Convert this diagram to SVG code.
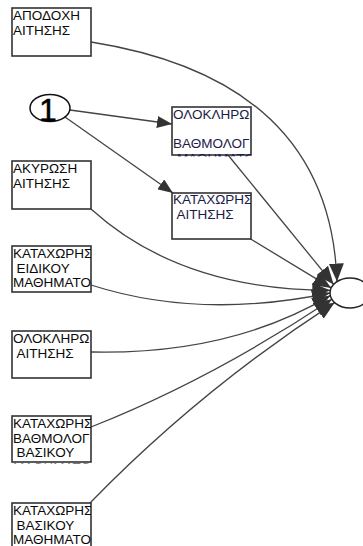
<svg xmlns="http://www.w3.org/2000/svg" width="363" height="546" viewBox="0 0 363 546">
  <style>
    .box { fill: #ffffff; stroke: #333333; stroke-width: 1.6; }
    .lbl { font-family: "Liberation Sans", Arial, sans-serif; font-size: 13.5px; fill: #0a0a0a; }
    .lbl2 { font-family: "Liberation Sans", Arial, sans-serif; font-size: 13.5px; fill: #1c1c48; }
    .edge { fill: none; stroke: #444444; stroke-width: 1.3; }
    .start { fill: #ffffff; stroke: #111111; stroke-width: 1.5; }
    .end { fill: #ffffff; stroke: #222222; stroke-width: 1.5; }
  </style>
  <defs>
    <marker id="arrow" markerUnits="userSpaceOnUse" markerWidth="15" markerHeight="12" refX="15" refY="6" orient="auto">
      <path d="M0,0 L15,6 L0,12 z" fill="#333333"/>
    </marker>
    <marker id="arrow-end" markerUnits="userSpaceOnUse" markerWidth="18" markerHeight="15" refX="18" refY="7.5" orient="auto">
      <path d="M0,0 L18,7.5 L0,15 z" fill="#333333"/>
    </marker>
    <clipPath id="cA"><rect x="12" y="8" width="79" height="48"/></clipPath>
    <clipPath id="cB"><rect x="172" y="107" width="79" height="49.5"/></clipPath>
    <clipPath id="cC"><rect x="172" y="193" width="79" height="46"/></clipPath>
    <clipPath id="cD"><rect x="12" y="161" width="79" height="48"/></clipPath>
    <clipPath id="cE"><rect x="12" y="246" width="79" height="46"/></clipPath>
    <clipPath id="cF"><rect x="12" y="331" width="79" height="47"/></clipPath>
    <clipPath id="cG"><rect x="12" y="416" width="79" height="47.5"/></clipPath>
    <clipPath id="cH"><rect x="12" y="503" width="79" height="48"/></clipPath>
  </defs>

  <!-- connectors -->
  <g id="connectors">
    <path class="edge" d="M70,110 L172,124" marker-end="url(#arrow)"/>
    <path class="edge" d="M65,117 L173,193" marker-end="url(#arrow)"/>
    <path class="edge" d="M91,42 Q330,80 337,281.5" marker-end="url(#arrow-end)"/>
    <path class="edge" d="M228,155 L333.6,284.4" marker-end="url(#arrow-end)"/>
    <path class="edge" d="M249,238 L331.2,287.9" marker-end="url(#arrow-end)"/>
    <path class="edge" d="M91,209 Q180,290 330.3,290.4" marker-end="url(#arrow-end)"/>
    <path class="edge" d="M91,285 Q200,320 330,293" marker-end="url(#arrow-end)"/>
    <path class="edge" d="M91,352 Q230,355 330.3,295.6" marker-end="url(#arrow-end)"/>
    <path class="edge" d="M91,427 Q210,380 331.9,299.3" marker-end="url(#arrow-end)"/>
    <path class="edge" d="M90,503 Q200,390 334.7,302.6" marker-end="url(#arrow-end)"/>
  </g>

  <!-- start node -->
  <g id="start">
    <ellipse class="start" cx="50" cy="108" rx="20" ry="13.5"/>
    <text x="48" y="121" text-anchor="middle" font-family="'Liberation Sans', Arial, sans-serif" font-size="32" fill="#000000" stroke="#000000" stroke-width="0.5">1</text>
  </g>

  <!-- end node -->
  <g id="end">
    <ellipse class="end" cx="350" cy="293" rx="20" ry="15"/>
  </g>

  <g id="apodoxi-aitisis">
    <rect class="box" x="12" y="8" width="79" height="48"/>
    <g clip-path="url(#cA)">
      <text class="lbl" x="13" y="20">ΑΠΟΔΟΧΗ</text>
      <text class="lbl" x="13" y="34.5">ΑΙΤΗΣΗΣ</text>
    </g>
  </g>

  <g id="oloklirosi-vathmologias">
    <rect class="box" x="172" y="107" width="79" height="48"/>
    <g clip-path="url(#cB)">
      <text class="lbl2" x="173" y="119">ΟΛΟΚΛΗΡΩ</text>
      <text class="lbl2" x="173" y="148">ΒΑΘΜΟΛΟΓ</text>
      <text class="lbl2" x="177" y="163">ΜΑΘΗΜΑΤΟΣ</text>
    </g>
  </g>

  <g id="kataxorisi-aitisis">
    <rect class="box" x="172" y="193" width="79" height="46"/>
    <g clip-path="url(#cC)">
      <text class="lbl2" x="173" y="204">ΚΑΤΑΧΩΡΗΣ</text>
      <text class="lbl2" x="176.5" y="218.5">ΑΙΤΗΣΗΣ</text>
    </g>
  </g>

  <g id="akyrosi-aitisis">
    <rect class="box" x="12" y="161" width="79" height="48"/>
    <g clip-path="url(#cD)">
      <text class="lbl" x="13" y="173">ΑΚΥΡΩΣΗ</text>
      <text class="lbl" x="13" y="187.5">ΑΙΤΗΣΗΣ</text>
    </g>
  </g>

  <g id="kataxorisi-eidikou">
    <rect class="box" x="12" y="246" width="79" height="46"/>
    <g clip-path="url(#cE)">
      <text class="lbl" x="13" y="258">ΚΑΤΑΧΩΡΗΣ</text>
      <text class="lbl" x="16.5" y="272.5">ΕΙΔΙΚΟΥ</text>
      <text class="lbl" x="13" y="287">ΜΑΘΗΜΑΤΟ</text>
    </g>
  </g>

  <g id="oloklirosi-aitisis">
    <rect class="box" x="12" y="331" width="79" height="47"/>
    <g clip-path="url(#cF)">
      <text class="lbl" x="13" y="343">ΟΛΟΚΛΗΡΩ</text>
      <text class="lbl" x="16.5" y="357.5">ΑΙΤΗΣΗΣ</text>
    </g>
  </g>

  <g id="kataxorisi-vathmologias">
    <rect class="box" x="12" y="416" width="79" height="46"/>
    <g clip-path="url(#cG)">
      <text class="lbl" x="13" y="428">ΚΑΤΑΧΩΡΗΣ</text>
      <text class="lbl" x="13" y="442.5">ΒΑΘΜΟΛΟΓ</text>
      <text class="lbl" x="16.5" y="457">ΒΑΣΙΚΟΥ</text>
      <text class="lbl" x="13" y="472">ΜΑΘΗΜΑΤΟΣ</text>
    </g>
  </g>

  <g id="kataxorisi-vasikou">
    <rect class="box" x="12" y="503" width="79" height="48"/>
    <g clip-path="url(#cH)">
      <text class="lbl" x="13" y="515">ΚΑΤΑΧΩΡΗΣ</text>
      <text class="lbl" x="16.5" y="529.5">ΒΑΣΙΚΟΥ</text>
      <text class="lbl" x="13" y="544">ΜΑΘΗΜΑΤΟ</text>
    </g>
  </g>
</svg>
